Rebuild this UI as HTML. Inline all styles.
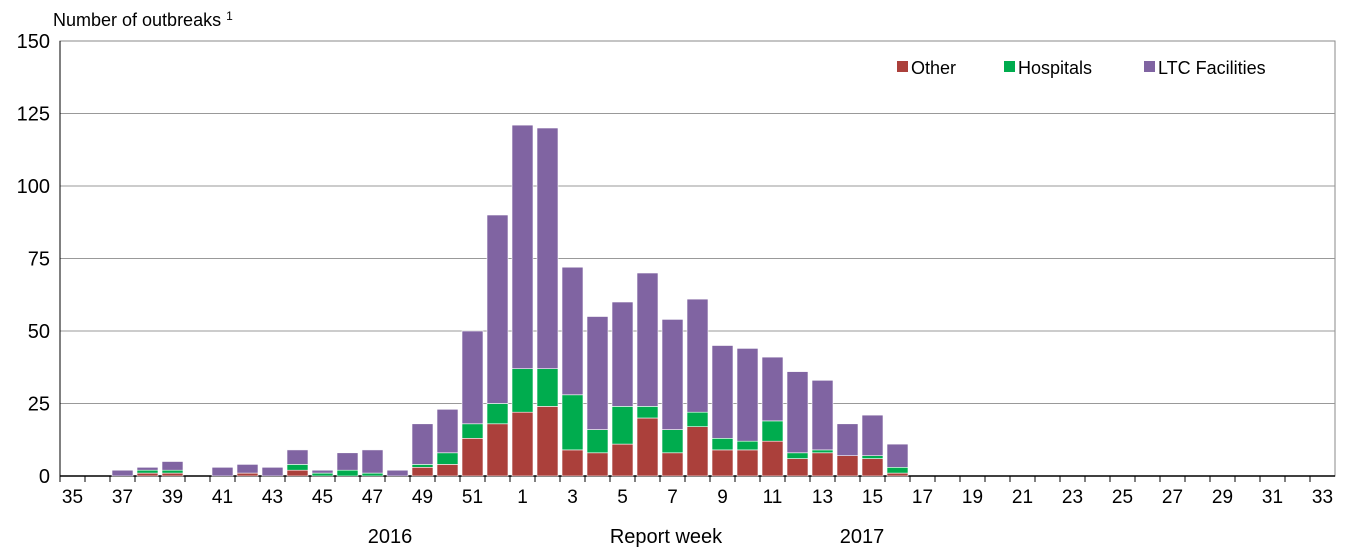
<!DOCTYPE html>
<html><head><meta charset="utf-8"><style>
body{margin:0;background:#fff;font-family:"Liberation Sans",sans-serif;}
svg text{font-family:"Liberation Sans",sans-serif;fill:#000;}
</style></head><body>
<svg id="chart" width="1345" height="550"></svg>
<script>
const weeks=[35,36,37,38,39,40,41,42,43,44,45,46,47,48,49,50,51,52,1,2,3,4,5,6,7,8,9,10,11,12,13,14,15,16,17,18,19,20,21,22,23,24,25,26,27,28,29,30,31,32,33];
const otherVals=[0,0,0,1,1,0,0,1,0,2,0,0,0,0,3,4,13,18,22,24,9,8,11,20,8,17,9,9,12,6,8,7,6,1,0,0,0,0,0,0,0,0,0,0,0,0,0,0,0,0,0];
const hospVals=[0,0,0,1,1,0,0,0,0,2,1,2,1,0,1,4,5,7,15,13,19,8,13,4,8,5,4,3,7,2,1,0,1,2,0,0,0,0,0,0,0,0,0,0,0,0,0,0,0,0,0];
const totalVals=[0,0,2,3,5,0,3,4,3,9,2,8,9,2,18,23,50,90,121,120,72,55,60,70,54,61,45,44,41,36,33,18,21,11,0,0,0,0,0,0,0,0,0,0,0,0,0,0,0,0,0];
const yTicks=[0,25,50,75,100,125,150];
const NS="http://www.w3.org/2000/svg";
const svg=document.getElementById('chart');
const X0=60,X1=1335,Y0=476,Y1=41,YMAX=150;
const slot=(X1-X0)/weeks.length;
const y=v=>Y0-(v/YMAX)*(Y0-Y1);
const xc=i=>X0+slot*(i+0.5);
function mk(t,a){const e=document.createElementNS(NS,t);for(const k in a)e.setAttribute(k,a[k]);svg.appendChild(e);return e;}
let r=mk('rect',{x:X0,y:Y1,width:X1-X0,height:Y0-Y1,fill:'none',stroke:'#888','stroke-width':1});


yTicks.forEach(v=>{
 if(v>0&&v<150){const l=mk('line',{x1:X0,x2:X1,y1:y(v),y2:y(v),stroke:'#999','stroke-width':1});
 
 }
 const t=mk('text',{x:X0-10,y:y(v)+7,'text-anchor':'end','font-size':20});t.textContent=v;
 
 
});
mk('line',{x1:X0,x2:X0,y1:Y1,y2:Y0,stroke:'#000','stroke-width':1});
mk('line',{x1:X0,x2:X1,y1:Y0,y2:Y0,stroke:'#000','stroke-width':1.5});
const bw=21;
weeks.forEach((w,i)=>{
 const tk=mk('line',{x1:X0+slot*i,x2:X0+slot*i,y1:Y0,y2:Y0+6,stroke:'#000'});
 
 
 if(i%2==0){const t=mk('text',{x:xc(i),y:Y0+27,'text-anchor':'middle','font-size':19});t.textContent=w;
 
 }
 const o=otherVals[i],h=hospVals[i],tot=totalVals[i];
 if(tot<=0)return;
 const segs=[[0,o,'#ab403b','bar-other'],[o,o+h,'#00ac4e','bar-hospitals'],[o+h,tot,'#8064a2','bar-ltc']];
 segs.forEach(s=>{if(s[1]<=s[0])return;
  const b=mk('rect',{x:xc(i)-bw/2,y:y(s[1]),width:bw,height:y(s[0])-y(s[1]),fill:s[2],stroke:'#fff','stroke-width':0.6});
  
  
 });
});
const leg=[['Other','#ab403b',897],['Hospitals','#00ac4e',1004],['LTC Facilities','#8064a2',1144]];
leg.forEach(l=>{
 const s=mk('rect',{x:l[2],y:61,width:11,height:11,fill:l[1]});
 
 
 const t=mk('text',{x:l[2]+14,y:74,'font-size':18});t.textContent=l[0];
 
 
});
function txt(x,yy,s,name,size,anchor){const t=mk('text',{x:x,y:yy,'font-size':size||18,'text-anchor':anchor||'start'});t.textContent=s;
 
 return t;}
const yt=txt(53,26,'Number of outbreaks ','y-axis-title',18);
const sup=document.createElementNS(NS,'tspan');sup.setAttribute('font-size','12');sup.setAttribute('dy','-6');sup.textContent='1';yt.appendChild(sup);
txt(390,543,'2016','year-label-2016',20,'middle');
txt(666,543,'Report week','x-axis-title',20,'middle');
txt(862,543,'2017','year-label-2017',20,'middle');
</script>
</body></html>
